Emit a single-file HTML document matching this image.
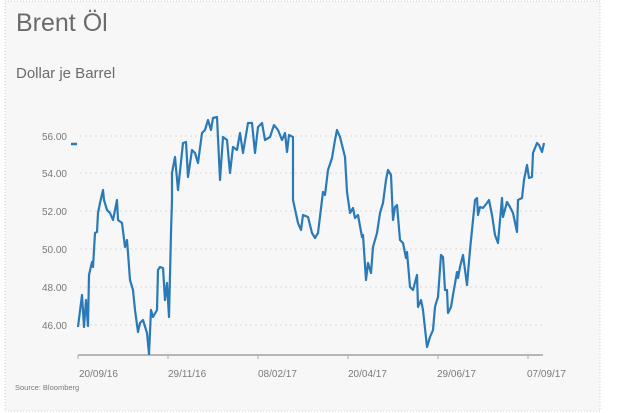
<!DOCTYPE html>
<html><head><meta charset="utf-8"><style>
html,body{margin:0;padding:0;background:#fff;width:620px;height:413px;overflow:hidden}
svg{display:block;font-family:"Liberation Sans",sans-serif}
</style></head><body>
<svg width="620" height="413" viewBox="0 0 620 413">
<rect x="5" y="1" width="595" height="410" fill="#f7f7f7" stroke="#cfcfcf" stroke-dasharray="1,2"/>
<text x="16" y="31" font-size="25" fill="#6b6b6b">Brent Öl</text>
<text x="16" y="78" font-size="15" fill="#6b6b6b">Dollar je Barrel</text>
<g stroke="#d8d8d8" stroke-dasharray="2,3" stroke-width="1">
<line x1="80" y1="136" x2="545" y2="136"/><line x1="80" y1="173" x2="545" y2="173"/>
<line x1="80" y1="211" x2="545" y2="211"/><line x1="80" y1="249" x2="545" y2="249"/>
<line x1="80" y1="287" x2="545" y2="287"/><line x1="80" y1="325" x2="545" y2="325"/>
</g>
<g font-size="10" fill="#7a7a7a" text-anchor="end">
<text x="67" y="140">56.00</text><text x="67" y="177">54.00</text><text x="67" y="215">52.00</text>
<text x="67" y="253">50.00</text><text x="67" y="291">48.00</text><text x="67" y="329">46.00</text>
</g>
<line x1="71" y1="144" x2="77" y2="144" stroke="#2a7ab8" stroke-width="2.5"/>
<line x1="78" y1="355" x2="543" y2="355" stroke="#777" stroke-width="1"/>
<g stroke="#aaa"><line x1="78" y1="355" x2="78" y2="359"/><line x1="168" y1="355" x2="168" y2="359"/><line x1="258" y1="355" x2="258" y2="359"/><line x1="348" y1="355" x2="348" y2="359"/><line x1="438" y1="355" x2="438" y2="359"/><line x1="528" y1="355" x2="528" y2="359"/></g>
<g font-size="10" fill="#7a7a7a">
<text x="79" y="377">20/09/16</text><text x="168" y="377">29/11/16</text><text x="258" y="377">08/02/17</text>
<text x="348" y="377">20/04/17</text><text x="437" y="377">29/06/17</text><text x="527" y="377">07/09/17</text>
</g>
<text x="15" y="390" font-size="7.5" fill="#7a7a7a">Source: Bloomberg</text>
<polyline fill="none" stroke="#2a7ab8" stroke-width="2.2" stroke-linejoin="round" points="
78,327 82,295 84,327 86,300 88,326 89,275 92,262 93,267 95,233 97,232 98,213 100,203 103,190 104,200 107,210 110,213 113,220 117,200 118,220 122,223 125,247 127,240 128,253 130,280 133,290 135,310 138,332 140,323 143,320 147,333 149,354 151,310 153,317 157,310 158,270 160,267 163,268 165,300 167,283 169,317 171,233 172,200 172,173 175,157 178,190 183,143 186,142 188,177 192,150 195,153 198,163 202,133 205,130 208,120 211,130 213,118 217,117 220,180 223,137 227,140 230,173 233,147 237,150 240,133 243,153 248,123 252,123 255,153 258,127 262,123 265,140 270,137 274,125 278,130 282,140 285,133 287,152 289,135 293,137 293,200 298,223 301,230 303,215 308,217 312,233 315,238 318,233 322,200 323,192 325,195 328,170 332,158 335,140 337,130 340,137 345,157 347,192 350,213 353,208 355,218 358,215 362,237 363,235 366,280 368,263 371,273 373,247 377,233 380,213 383,203 386,180 388,170 391,175 393,220 395,207 397,205 400,240 403,243 406,258 407,252 410,287 413,290 417,275 418,307 421,300 423,310 427,347 430,337 433,330 435,307 437,300 438,297 441,255 443,257 445,290 447,290 448,313 451,307 453,295 457,272 458,278 460,267 463,255 467,285 470,250 472,230 475,200 477,198 478,215 480,207 483,208 487,203 489,200 492,215 495,235 498,243 502,198 503,217 507,202 510,207 513,213 517,232 518,200 522,198 524,180 527,165 529,178 532,177 533,153 537,143 539,145 542,152 544,143"/>
</svg>
</body></html>
